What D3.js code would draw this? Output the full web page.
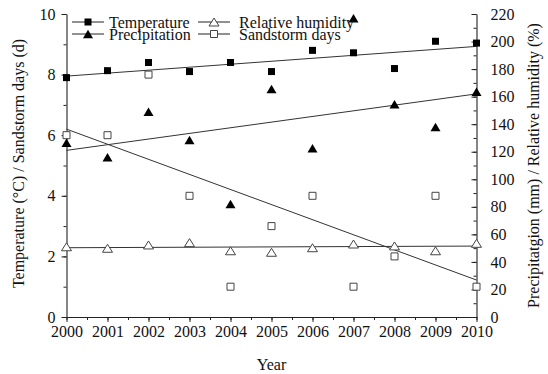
<!DOCTYPE html>
<html>
<head>
<meta charset="utf-8">
<script src="https://cdn.jsdelivr.net/npm/d3@7"></script>
<style>
  html, body { margin: 0; padding: 0; background: #fff; }
  svg { display: block; }
  text { font-family: "Liberation Serif", "Times New Roman", serif; fill: #111; }
</style>
</head>
<body>
<svg id="chart" width="548" height="374"></svg>
<script>
// ---- data ----
const years = [2000, 2001, 2002, 2003, 2004, 2005, 2006, 2007, 2008, 2009, 2010];
const temperature = [7.9, 8.13, 8.4, 8.1, 8.4, 8.1, 8.8, 8.72, 8.2, 9.1, 9.04];       // °C, left axis
const sandstormDays = [6, 6, 8, 4, 1, 3, 4, 1, 2, 4, 1];                                  // d, left axis
const precipitation = [126.5, 116, 149, 128.5, 82, 165.5, 122.5, 217, 154.5, 138, 163.5]; // mm, right axis
const humidity = [51.0, 49.9, 52.3, 54.0, 48.1, 47.0, 50.3, 53.0, 51.6, 48.1, 53.5];      // %, right axis
// fitted trend lines: values at 2000 and 2010
const trendYears = [2000, 2010];
const temperatureTrend = [7.95, 8.93];
const sandstormTrend = [6.2, 1.22];
const precipitationTrend = [121, 162];
const humidityTrend = [50.3, 51.5];
const leftTicks = [0, 2, 4, 6, 8, 10];
const rightTicks = [0, 20, 40, 60, 80, 100, 120, 140, 160, 180, 200, 220];

// ---- layout ----
const svg = d3.select("#chart");
const L = 66.5, R = 476.5, T = 14, B = 317;
const x = d3.scaleLinear().domain([2000, 2010]).range([L, R]);
const yL = d3.scaleLinear().domain([0, 10]).range([B, T]);
const yR = d3.scaleLinear().domain([0, 220]).range([B, T]);
const FONT = 16;

// ---- axes ----
const xMinor = d3.range(2000, 2010.01, 0.5);
const xAxis = d3.axisBottom(x).tickValues(years).tickFormat(d3.format("d")).tickSize(5).tickSizeOuter(0).tickPadding(4);
const xMinorAxis = d3.axisBottom(x).tickValues(xMinor).tickFormat("").tickSize(3);
const lAxis = d3.axisLeft(yL).tickValues(leftTicks).tickFormat(d3.format("d")).tickSize(5).tickSizeOuter(0).tickPadding(6);
const lMinorAxis = d3.axisLeft(yL).tickValues(d3.range(0, 10.01, 1)).tickFormat("").tickSize(3);
const rAxis = d3.axisRight(yR).tickValues(rightTicks).tickFormat(d3.format("d")).tickSize(-5).tickSizeOuter(0).tickPadding(14);
const rMinorAxis = d3.axisRight(yR).tickValues(d3.range(0, 220.01, 10)).tickFormat("").tickSize(-3);

function style(g) {
  g.selectAll(".domain").attr("stroke", "#222").attr("stroke-width", 1.1);
  g.selectAll(".tick line").attr("stroke", "#222").attr("stroke-width", 1);
  g.selectAll(".tick text").style("font-family", '"Liberation Serif", serif').style("font-size", FONT + "px").attr("fill", "#111");
}
svg.append("g").attr("transform", `translate(0,${B})`).call(xMinorAxis).call(style).select(".domain").remove();
svg.append("g").attr("transform", `translate(0,${B})`).call(xAxis).call(style);
svg.append("g").attr("transform", `translate(${L},0)`).call(lMinorAxis).call(style).select(".domain").remove();
svg.append("g").attr("transform", `translate(${L},0)`).call(lAxis).call(style);
svg.append("g").attr("transform", `translate(${R},0)`).call(rMinorAxis).call(style).select(".domain").remove();
svg.append("g").attr("transform", `translate(${R},0)`).call(rAxis).call(style);

// axis titles
svg.append("text").attr("x", (L + R) / 2).attr("y", 370).attr("text-anchor", "middle")
  .style("font-size", FONT + "px").text("Year");
svg.append("text").attr("transform", `translate(24,${(T + B) / 2 - 2}) rotate(-90)`).attr("text-anchor", "middle")
  .style("font-size", FONT + "px").text("Temperature (°C) / Sandstorm days (d)");
svg.append("text").attr("transform", `translate(539,${(T + B) / 2}) rotate(-90)`).attr("text-anchor", "middle")
  .style("font-size", FONT + "px").text("Precipitatgion (mm) / Relative humidity (%)");

// ---- trend lines ----
const plot = svg.append("g");
function trend(vals, ys) {
  plot.append("line")
    .attr("x1", x(trendYears[0])).attr("y1", ys(vals[0]))
    .attr("x2", x(trendYears[1])).attr("y2", ys(vals[1]))
    .attr("stroke", "#333").attr("stroke-width", 1);
}
trend(temperatureTrend, yL);
trend(sandstormTrend, yL);
trend(precipitationTrend, yR);
trend(humidityTrend, yR);

// ---- markers ----
function sq(s) { return `M${-s/2},${-s/2}h${s}v${s}h${-s}Z`; }
function tri(w, h) { return `M0,${-h/2}L${w/2},${h/2}L${-w/2},${h/2}Z`; }
const markers = {
  temp: { d: sq(7), fill: "#000", stroke: "none" },
  precip: { d: tri(10, 8.5), fill: "#000", stroke: "none" },
  hum: { d: tri(10, 8), fill: "#fff", stroke: "#444" },
  sand: { d: sq(7), fill: "#fff", stroke: "#444" }
};
function draw(vals, ys, m) {
  plot.append("g").selectAll("path").data(vals).join("path")
    .attr("transform", (d, i) => `translate(${x(years[i])},${ys(d)})`)
    .attr("d", markers[m].d).attr("fill", markers[m].fill)
    .attr("stroke", markers[m].stroke).attr("stroke-width", 1);
}
draw(humidity, yR, "hum");
draw(sandstormDays, yL, "sand");
draw(temperature, yL, "temp");
draw(precipitation, yR, "precip");

// ---- legend ----
const legendItems = [
  { label: "Temperature", m: "temp", lx: 72, tx: 109, y: 22 },
  { label: "Precipitation", m: "precip", lx: 72, tx: 109, y: 34 },
  { label: "Relative humidity", m: "hum", lx: 198, tx: 239, y: 22 },
  { label: "Sandstorm days", m: "sand", lx: 198, tx: 239, y: 34 }
];
const lg = svg.append("g");
legendItems.forEach(it => {
  lg.append("line").attr("x1", it.lx).attr("x2", it.lx + 32).attr("y1", it.y).attr("y2", it.y)
    .attr("stroke", "#222").attr("stroke-width", 1);
  lg.append("path").attr("transform", `translate(${it.lx + 16},${it.y})`)
    .attr("d", markers[it.m].d).attr("fill", markers[it.m].fill)
    .attr("stroke", markers[it.m].stroke).attr("stroke-width", 1);
  lg.append("text").attr("x", it.tx).attr("y", it.y + 5.5).style("font-size", FONT + "px").text(it.label);
});
</script>
</body>
</html>
